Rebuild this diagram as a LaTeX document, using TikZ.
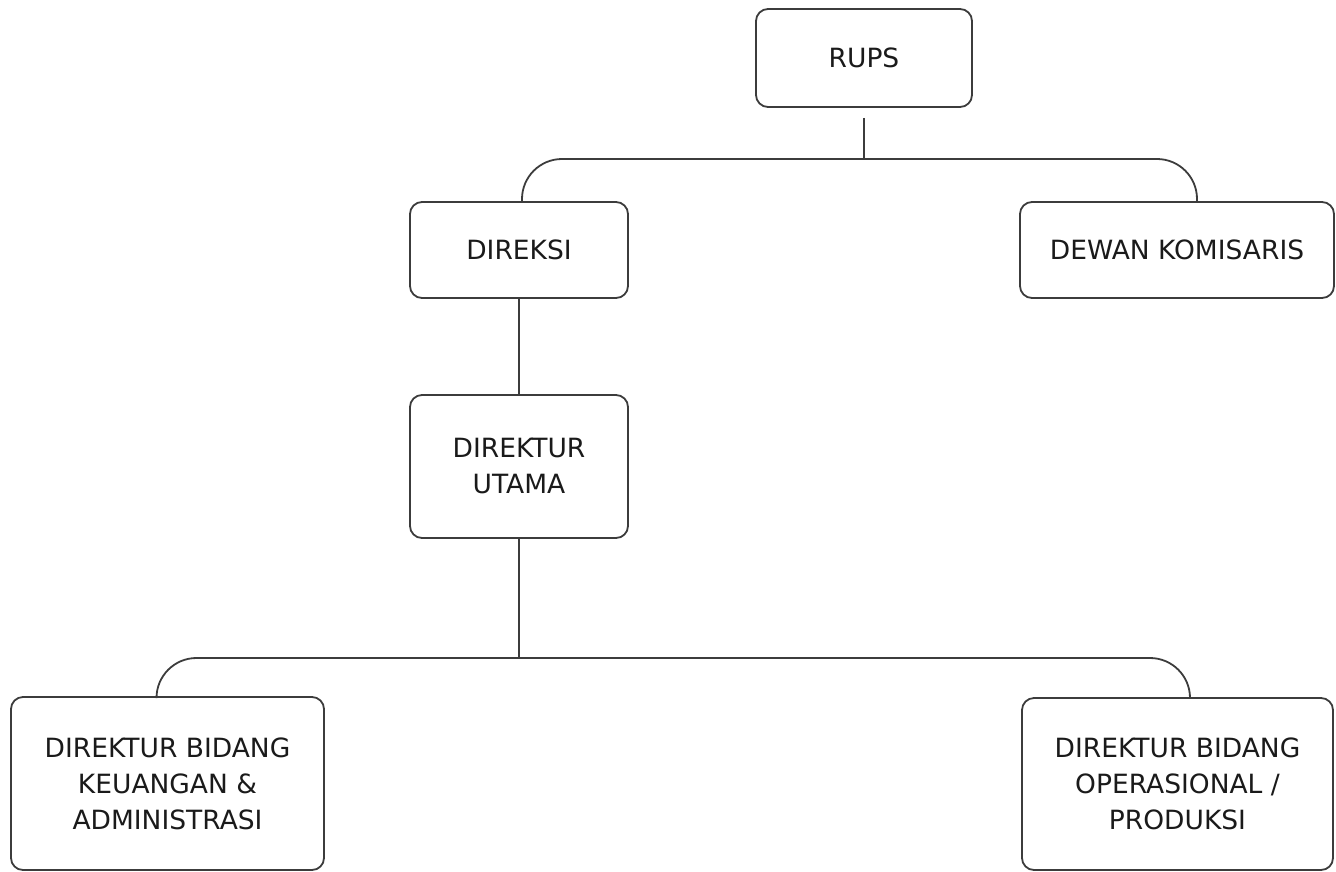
\documentclass[tikz,border=0pt]{standalone}
\usepackage{fontspec}
\setmainfont{DejaVu Sans}
\definecolor{linegray}{HTML}{3C3C3C}
\definecolor{textgray}{HTML}{1A1A1A}
\tikzset{
  orgbox/.style={draw=linegray, line width=1.8pt, rounded corners=12pt, inner sep=0pt,
    align=center, text=textgray, font=\fontsize{26.5}{36}\selectfont},
  link/.style={draw=linegray, line width=1.8pt},
}
\begin{document}
\begin{tikzpicture}[x=1pt,y=-1pt]
\useasboundingbox (0,0) rectangle (1336,871);
\node[orgbox, minimum width=216pt, minimum height=98pt] (rups) at (864,58) {RUPS};
\node[orgbox, minimum width=218pt, minimum height=96pt] (direksi) at (519,250) {DIREKSI};
\node[orgbox, minimum width=314pt, minimum height=96pt] (dewan) at (1177,250) {DEWAN KOMISARIS};
\node[orgbox, minimum width=218pt, minimum height=143pt] (du) at (519,466.5) {DIREKTUR\\UTAMA};
\node[orgbox, minimum width=313pt, minimum height=173pt] (keu) at (167.5,783.5) {DIREKTUR BIDANG\\KEUANGAN \&\\ADMINISTRASI};
\node[orgbox, minimum width=311pt, minimum height=172pt] (ops) at (1177.5,784) {DIREKTUR BIDANG\\OPERASIONAL /\\PRODUKSI};
% top bracket
\coordinate (rupsstem) at ([yshift=-10pt]rups.south);
\coordinate (topjoin) at (rups.south |- 0,159);
\coordinate (dewandrop) at ([xshift=20pt]dewan.north);
\draw[link] (rupsstem) -- (topjoin);
\draw[link, rounded corners=40pt] ([xshift=3pt]direksi.north) |- (topjoin) -| (dewandrop);
% direksi to direktur utama
\draw[link] (direksi.south) -- (du.north);
% bottom bracket
\coordinate (botjoin) at (du.south |- 0,658);
\coordinate (keudrop) at ([xshift=-11pt]keu.north);
\coordinate (opsdrop) at ([xshift=12.5pt]ops.north);
\draw[link] (du.south) -- (botjoin);
\draw[link, rounded corners=40pt] (keudrop) |- (botjoin) -| (opsdrop);
\end{tikzpicture}
\end{document}
